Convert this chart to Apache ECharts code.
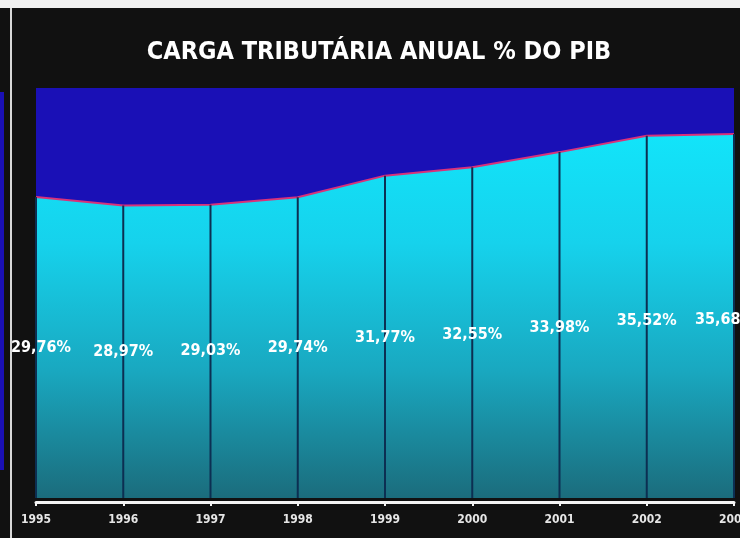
<!DOCTYPE html>
<html>
<head>
<meta charset="utf-8">
<script src="https://cdn.jsdelivr.net/npm/echarts@6/dist/echarts.min.js"></script>
<style>
html,body{margin:0;padding:0;background:#f0f0f0;}
#c{width:740px;height:538px;}
</style>
</head>
<body>
<div id="c"></div>
<script>
const years = ['1995','1996','1997','1998','1999','2000','2001','2002','2003'];
const cargaValues = [29.76, 28.97, 29.03, 29.74, 31.77, 32.55, 33.98, 35.52, 35.68];
const cargaLabels = ['29,76%','28,97%','29,03%','29,74%','31,77%','32,55%','33,98%','35,52%','35,68%'];
const titleText = 'CARGA TRIBUTÁRIA ANUAL % DO PIB';

const FONT = '"Liberation Sans Narrow", "DejaVu Sans Condensed", "Liberation Sans", sans-serif';

const labelSeriesData = cargaValues.map((v, i) => {
  let dx = 0;
  if (i === 0) dx = 5;
  if (i === cargaValues.length - 1) dx = -9;
  return { value: v, label: { offset: [dx, 0] } };
});

const chart = echarts.init(document.getElementById('c'));
chart.setOption({
  backgroundColor: 'transparent',
  animation: false,
  graphic: [
    { type: 'rect', z: -10, shape: { x: 0, y: 8, width: 740, height: 530 }, style: { fill: '#111111' } },
    { type: 'rect', z: -9, shape: { x: 10, y: 8, width: 2, height: 530 }, style: { fill: '#d8d8d8' } },
    { type: 'rect', z: -9, shape: { x: 0, y: 92, width: 4, height: 378 }, style: { fill: '#1a10b6' } }
  ],
  title: {
    text: titleText,
    left: 374, top: 35, textAlign: 'center',
    textStyle: { color: '#ffffff', fontFamily: FONT, fontWeight: 'bold', fontSize: 25 }
  },
  grid: {
    left: 36, right: 6, top: 88, bottom: 40,
    outerBoundsMode: 'none',
    show: true, backgroundColor: '#1a10b6', borderWidth: 0
  },
  xAxis: {
    type: 'category', data: years, boundaryGap: false, offset: 4,
    axisLine: { onZero: false, lineStyle: { color: '#f4f4f4', width: 3 } },
    axisTick: { show: true, length: 4, lineStyle: { color: '#f4f4f4', width: 2 } },
    axisLabel: { color: '#e6e6e6', fontFamily: FONT, fontWeight: 'bold', fontSize: 12, margin: 12 },
    splitLine: { show: false }
  },
  yAxis: [
    { type: 'value', min: 1.5, max: 40, show: false, splitLine: { show: false } },
    { type: 'value', min: -2.2, max: 85.03, show: false, splitLine: { show: false } }
  ],
  series: [
    {
      type: 'line', data: cargaValues, z: 2,
      symbol: 'none',
      lineStyle: { color: '#d8327a', width: 2 },
      areaStyle: {
        origin: 'start', opacity: 1,
        color: new echarts.graphic.LinearGradient(0, 0, 0, 1, [
          { offset: 0, color: '#12e4fa' },
          { offset: 0.3, color: '#16d2ec' },
          { offset: 0.65, color: '#19a8c0' },
          { offset: 1, color: '#1b6c7c' }
        ])
      }
    },
    {
      type: 'bar', data: cargaValues, z: 3, barWidth: 2,
      itemStyle: { color: '#0c2f52' },
      silent: true
    },
    {
      type: 'line', data: labelSeriesData, yAxisIndex: 1, z: 5,
      symbol: 'circle', symbolSize: 0,
      lineStyle: { opacity: 0 },
      label: {
        show: true, position: 'inside',
        formatter: p => cargaLabels[p.dataIndex],
        color: '#ffffff', fontFamily: FONT, fontWeight: 'bold', fontSize: 16
      }
    }
  ]
});
</script>
</body>
</html>
